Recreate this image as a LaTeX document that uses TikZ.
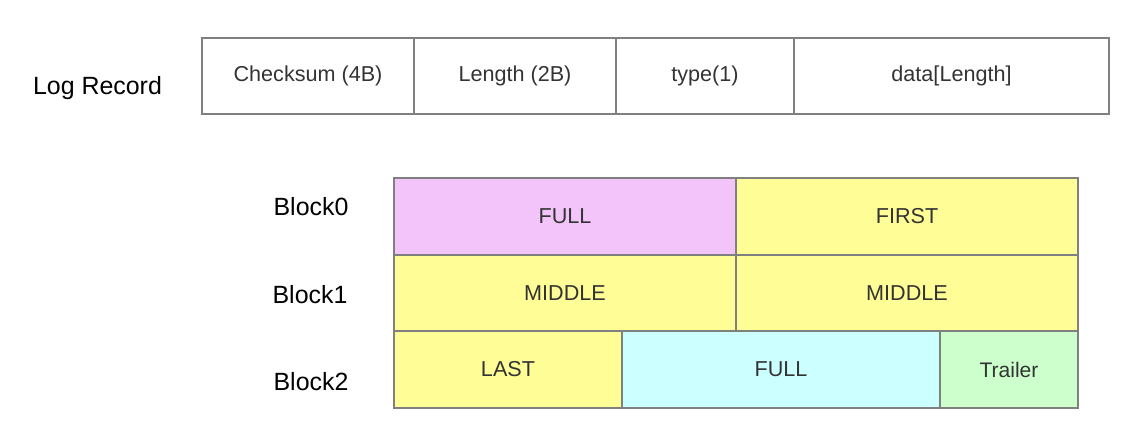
\documentclass[tikz,border=0pt]{standalone}
\usepackage{fontspec}
\setmainfont{Liberation Sans}
\definecolor{bordergray}{HTML}{808080}
\definecolor{txtgray}{HTML}{333333}
\definecolor{cpink}{HTML}{F3C4F9}
\definecolor{cyellow}{HTML}{FFFD96}
\definecolor{ccyan}{HTML}{CCFFFF}
\definecolor{cgreen}{HTML}{CCFFCC}
\tikzset{
  cell/.style 2 args={draw=bordergray, line width=1.3pt, inner sep=0pt, text=txtgray,
    minimum width=#1*0.75pt, minimum height=#2*0.75pt, anchor=center,
    font=\fontsize{16.2pt}{19pt}\selectfont},
  rowlabel/.style={text=black, font=\fontsize{18.7pt}{22pt}\selectfont},
}
\begin{document}
\begin{tikzpicture}[x=0.75pt,y=-0.75pt]
\useasboundingbox (0,0) rectangle (1144,436);
% Log record
\node[rowlabel] (lr) at (97.5,88) {Log Record};
\node[cell={212}{76}] (cs) at (308,76) {Checksum (4B)};
\node[cell={202}{76}] (len) at (515,76) {Length (2B)};
\node[cell={178}{76}] (ty) at (705,76) {type(1)};
\node[cell={315}{76}] (da) at (951.5,76) {data[Length]};
% Blocks
\node[rowlabel] (b0) at (311,207) {Block0};
\node[rowlabel] (b1) at (310,295) {Block1};
\node[rowlabel] (b2) at (311,382) {Block2};
\node[cell={342}{77}, fill=cpink] (b0a) at (565,216.5) {FULL};
\node[cell={342}{77}, fill=cyellow] (b0b) at (907,216.5) {FIRST};
\node[cell={342}{76}, fill=cyellow] (b1a) at (565,293) {MIDDLE};
\node[cell={342}{76}, fill=cyellow] (b1b) at (907,293) {MIDDLE};
\node[cell={228}{77}, fill=cyellow] (b2a) at (508,369.5) {LAST};
\node[cell={318}{77}, fill=ccyan] (b2b) at (781,369.5) {FULL};
\node[cell={138}{77}, fill=cgreen, font=\fontsize{15.8pt}{18pt}\selectfont] (b2c) at (1009,369.5) {Trailer};
\end{tikzpicture}
\end{document}
